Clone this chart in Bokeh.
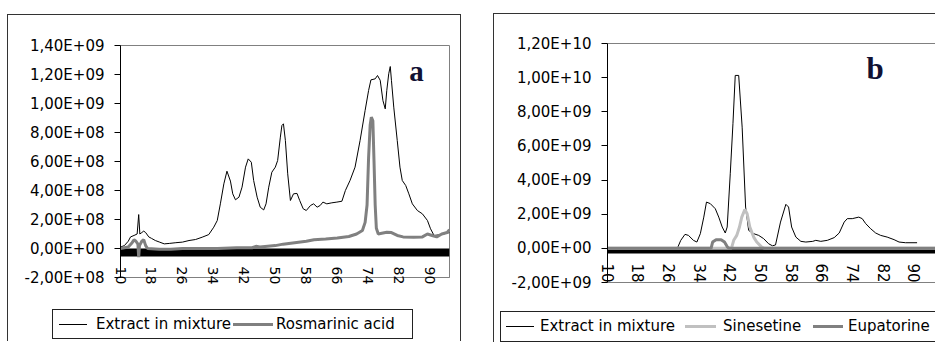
import math
from bokeh.plotting import figure
from bokeh.layouts import row, column
from bokeh.models import (Range1d, FixedTicker, CustomJSTickFormatter, BoxAnnotation,
                          Label, LinearAxis, Div)
from bokeh.embed import file_html
from bokeh.resources import INLINE

# ---------------- data ----------------
x_ticks = [10, 18, 26, 34, 42, 50, 58, 66, 74, 82, 90]

# panel a
a_extract_x = [10, 11, 12, 12.6, 13.5, 14.3, 14.7, 15.0, 15.5, 16, 16.5, 17.3, 18, 19, 20,
               21.3, 22.6, 24.3, 26, 27.7, 29.4, 31.1, 32.8, 34.1, 35, 35.8, 36.7, 37.5, 38.4,
               39, 39.7, 40.6, 41.4, 42.3, 43, 43.8, 44.4, 45.3, 46.1, 47, 47.6, 48.3, 49.1,
               50, 50.6, 51.3, 51.7, 52.1, 52.6, 53.2, 53.9, 54.7, 55.6, 56.3, 57.2, 58, 59.1,
               59.9, 60.8, 61.6, 62.3, 63.3, 64.6, 65.9, 67.2, 68.1, 69.3, 70.6, 71.9, 73.2,
               74.1, 74.7, 75.8, 76.4, 77.1, 77.8, 78.4, 78.8, 79.3, 79.7, 80, 80.6, 81.5, 82.2,
               82.8, 83.7, 84.5, 85.4, 86.7, 88, 89.3, 90.1, 91, 92.3, 93.6, 94.4, 95]
a_extract_y = [0.01, 0.02, 0.05, 0.08, 0.09, 0.10, 0.234, 0.10, 0.11, 0.12, 0.11, 0.08, 0.07,
               0.055, 0.045, 0.032, 0.035, 0.04, 0.044, 0.055, 0.062, 0.078, 0.096, 0.147,
               0.193, 0.308, 0.446, 0.533, 0.465, 0.377, 0.336, 0.354, 0.423, 0.561, 0.618,
               0.595, 0.469, 0.354, 0.285, 0.266, 0.308, 0.423, 0.526, 0.561, 0.607, 0.768,
               0.848, 0.86, 0.745, 0.515, 0.331, 0.377, 0.38, 0.331, 0.274, 0.262, 0.297,
               0.308, 0.285, 0.297, 0.32, 0.308, 0.315, 0.32, 0.326, 0.4, 0.469, 0.561, 0.745,
               0.952, 1.09, 1.163, 1.17, 1.193, 1.16, 1.02, 0.963, 1.09, 1.205, 1.255, 1.16,
               0.975, 0.745, 0.561, 0.469, 0.434, 0.377, 0.308, 0.262, 0.239, 0.193, 0.136,
               0.09, 0.094, 0.101, 0.106, 0.11]

a_rosm_x = [10, 12, 13, 13.5, 14, 14.5, 14.7, 14.9, 15.5, 16, 16.5, 17, 20, 23, 26, 30, 35, 40,
            44, 45, 46, 48, 50, 52, 55, 58, 60, 63, 66, 69, 71, 72.5, 73.2, 73.7, 74.1, 74.5,
            74.8, 75.2, 75.5, 75.8, 76.1, 76.6, 77.5, 78.8, 80, 81.5, 83, 85.7, 88, 89.3, 90.5,
            91.7, 93, 94.4, 95]
a_rosm_y = [0.0, 0.01, 0.04, 0.06, 0.05, 0.03, -0.06, 0.02, 0.05, 0.06, 0.02, 0.0, -0.005,
            -0.005, 0.0, 0.0, 0.0, 0.005, 0.005, 0.015, 0.01, 0.015, 0.02, 0.03, 0.04, 0.05,
            0.06, 0.065, 0.072, 0.083, 0.1, 0.124, 0.18, 0.3, 0.63, 0.85, 0.906, 0.88, 0.6,
            0.3, 0.14, 0.1, 0.105, 0.112, 0.11, 0.09, 0.08, 0.078, 0.08, 0.1, 0.09, 0.08, 0.1,
            0.11, 0.13]

# panel b
b_extract_x = [10, 20, 28.2, 29.1, 30.2, 31.1, 32.4, 33.3, 34.2, 35.1, 35.8, 36.8, 38.1, 39,
               39.9, 40.7, 41.2, 42.0, 42.7, 43.3, 44.2, 45.1, 46.0, 46.8, 48.1, 49.4, 50.7,
               52.0, 53.0, 53.8, 55.1, 56.5, 57.2, 58, 59.1, 60.4, 61.7, 63.5, 64.3, 65.6,
               67.3, 69.1, 70.4, 71.7, 72.5, 73.8, 75.5, 76.4, 77.3, 78.6, 79.9, 81.2, 82.9,
               84.7, 86, 87.7, 90.7]
b_extract_y = [0, 0, 0.0, 0.47, 0.82, 0.76, 0.47, 0.37, 0.86, 1.83, 2.71, 2.62, 2.32, 1.83,
               1.25, 0.9, 1.25, 4.37, 7.3, 10.13, 10.13, 7.1, 2.42, 1.05, 0.86, 0.76, 0.57,
               0.27, 0.15, 0.2, 1.54, 2.58, 2.42, 1.25, 0.66, 0.41, 0.37, 0.41, 0.47, 0.41,
               0.47, 0.63, 0.9, 1.54, 1.74, 1.74, 1.83, 1.74, 1.45, 1.15, 0.9, 0.76, 0.66,
               0.51, 0.37, 0.33, 0.33]

b_sines_x = [10, 42.3, 42.9, 43.7, 44.4, 45.0, 45.8, 46.4, 47.1, 48.1, 48.9, 50.2, 51, 95.5]
b_sines_y = [0, 0, 0.47, 0.76, 1.25, 1.83, 2.27, 2.03, 1.25, 0.66, 0.37, 0.07, 0, 0]

b_eupa_x = [10, 37.0, 37.4, 38.3, 39.6, 40.5, 41.3, 41.8, 95.5]
b_eupa_y = [0, 0, 0.37, 0.51, 0.51, 0.37, 0.07, 0, 0]

a_yticks = [-2e8, 0, 2e8, 4e8, 6e8, 8e8, 1.0e9, 1.2e9, 1.4e9]
b_yticks = [-2e9, 0, 2e9, 4e9, 6e9, 8e9, 1.0e10, 1.2e10]

a_labels = ["Extract in mixture", "Rosmarinic acid"]
a_colors = ["black", "#808080"]
a_widths = [1, 3]
b_labels = ["Extract in mixture", "Sinesetine", "Eupatorine"]
b_colors = ["black", "#c0c0c0", "#808080"]
b_widths = [1, 3, 3]

E9 = 1e9

FMT_CODE = """
if (Math.abs(tick) < 1e-6) return "0,00E+00";
const e = Math.floor(Math.log10(Math.abs(tick)) + 1e-9);
const m = tick / Math.pow(10, e);
const s = m.toFixed(2).replace(".", ",");
return s + "E" + (e >= 0 ? "+" : "-") + String(Math.abs(e)).padStart(2, "0");
"""

FRAME = "1px solid #333333"


def style_axes(p, yticks, xstandoff, xfont):
    p.yaxis.ticker = FixedTicker(ticks=yticks)
    p.yaxis.formatter = CustomJSTickFormatter(code=FMT_CODE)
    p.yaxis.major_label_text_font = "DejaVu Sans"
    p.yaxis.major_label_text_font_size = "15px"
    p.yaxis.major_label_text_color = "black"
    p.yaxis.major_tick_out = 6
    p.yaxis.major_tick_in = 0
    p.yaxis.minor_tick_out = 0
    p.yaxis.minor_tick_in = 0
    p.yaxis.major_label_standoff = 10
    p.yaxis.axis_line_color = "black"
    p.yaxis.major_tick_line_color = "black"

    p.xaxis.ticker = FixedTicker(ticks=x_ticks)
    p.xaxis.major_label_orientation = "vertical"
    p.xaxis.major_label_text_font = "DejaVu Sans"
    p.xaxis.major_label_text_font_size = xfont
    p.xaxis.major_label_text_color = "black"
    p.xaxis.major_tick_out = 0
    p.xaxis.major_tick_in = 0
    p.xaxis.minor_tick_out = 0
    p.xaxis.minor_tick_in = 0
    p.xaxis.major_label_standoff = xstandoff
    p.xaxis.axis_line_color = "#808080"
    p.xgrid.visible = False
    p.ygrid.visible = False


def legend_div(width, height, box, labels, colors, widths, glyph_pos, text_pos, right_border):
    bl, bt, bw, bh = box
    rb = "1px solid #222222" if right_border else "none"
    html = [f'<div style="position:relative;width:{width}px;height:{height}px;overflow:hidden;">']
    html.append(f'<div style="position:absolute;left:{bl}px;top:{bt}px;width:{bw}px;'
                f'height:{bh}px;box-sizing:border-box;border:1px solid #222222;'
                f'border-right:{rb};background:white;"></div>')
    for lab, col, lw, (gl, gw), tl in zip(labels, colors, widths, glyph_pos, text_pos):
        gt = bt + bh / 2 - lw / 2
        html.append(f'<div style="position:absolute;left:{bl + gl}px;top:{gt}px;width:{gw}px;'
                    f'height:{lw}px;background:{col};"></div>')
        html.append(f'<div style="position:absolute;left:{bl + tl}px;top:{bt}px;height:{bh}px;'
                    f'line-height:{bh}px;font-family:\'DejaVu Sans\';font-size:15px;'
                    f'color:black;white-space:nowrap;">{lab}</div>')
    html.append('</div>')
    return Div(text="".join(html), width=width, height=height, margin=0)


# ---------------- panel a ----------------
fa = figure(width=452, height=294, x_range=Range1d(10, 95), y_range=Range1d(-2e8, 1.4e9),
            output_backend="svg", toolbar_location=None,
            min_border_left=112, min_border_right=11, min_border_top=30, min_border_bottom=32,
            outline_line_color="#808080", background_fill_color="white",
            border_fill_color="white")
style_axes(fa, a_yticks, -11, "14px")
fa.add_layout(BoxAnnotation(top=0, bottom=-5.5e7, fill_color="black", fill_alpha=1,
                            line_color=None, level="underlay"))
fa.line(a_extract_x, [v * E9 for v in a_extract_y], line_color=a_colors[0], line_width=a_widths[0])
fa.line(a_rosm_x, [v * E9 for v in a_rosm_y], line_color=a_colors[1], line_width=a_widths[1])
fa.add_layout(Label(x=84.6, y=1.225e9, text="a", text_font="Liberation Serif",
                    text_font_style="bold", text_font_size="29px", text_color="#111133",
                    text_baseline="middle"))
la = legend_div(452, 32, (44, 0, 361, 30), a_labels, a_colors, a_widths,
                [(7, 28), (181, 40)], [44, 224], True)
panel_a = column(fa, la, margin=(14, 0, 0, 7), spacing=0,
                 styles={"border-left": FRAME, "border-top": FRAME, "border-right": FRAME})

# ---------------- panel b ----------------
fb = figure(width=441, height=296, x_range=Range1d(10, 95.5), y_range=Range1d(-2e9, 1.2e10),
            output_backend="svg", toolbar_location=None,
            min_border_left=113, min_border_right=0, min_border_top=29, min_border_bottom=28,
            outline_line_color=None, background_fill_color="white",
            border_fill_color="white")
style_axes(fb, b_yticks, -19, "15px")
top_ax = LinearAxis(ticker=FixedTicker(ticks=[]), major_tick_out=0, major_tick_in=0,
                    minor_tick_out=0, minor_tick_in=0, major_label_text_font_size="0px",
                    axis_line_color="#808080")
fb.add_layout(top_ax, "above")
fb.add_layout(BoxAnnotation(top=0, bottom=-3.0e8, fill_color="black", fill_alpha=1,
                            line_color=None, level="underlay"))
fb.line(b_extract_x, [v * E9 for v in b_extract_y], line_color=b_colors[0], line_width=b_widths[0])
fb.line(b_sines_x, [v * E9 for v in b_sines_y], line_color=b_colors[1], line_width=b_widths[1])
fb.line(b_eupa_x, [v * E9 for v in b_eupa_y], line_color=b_colors[2], line_width=b_widths[2])
fb.add_layout(Label(x=77.5, y=10.54e9, text="b", text_font="Liberation Serif",
                    text_font_style="bold", text_font_size="31px", text_color="#111133",
                    text_baseline="middle"))
lb = legend_div(441, 32, (6, 1, 436, 31), b_labels, b_colors, b_widths,
                [(6, 28), (185, 31), (313, 30)], [40, 223, 348], False)
panel_b = column(fb, lb, margin=(13, 0, 0, 32), spacing=0,
                 styles={"border-left": FRAME, "border-top": FRAME})

layout = row(panel_a, panel_b, spacing=0)
open("out.html", "w").write(file_html(layout, INLINE))
